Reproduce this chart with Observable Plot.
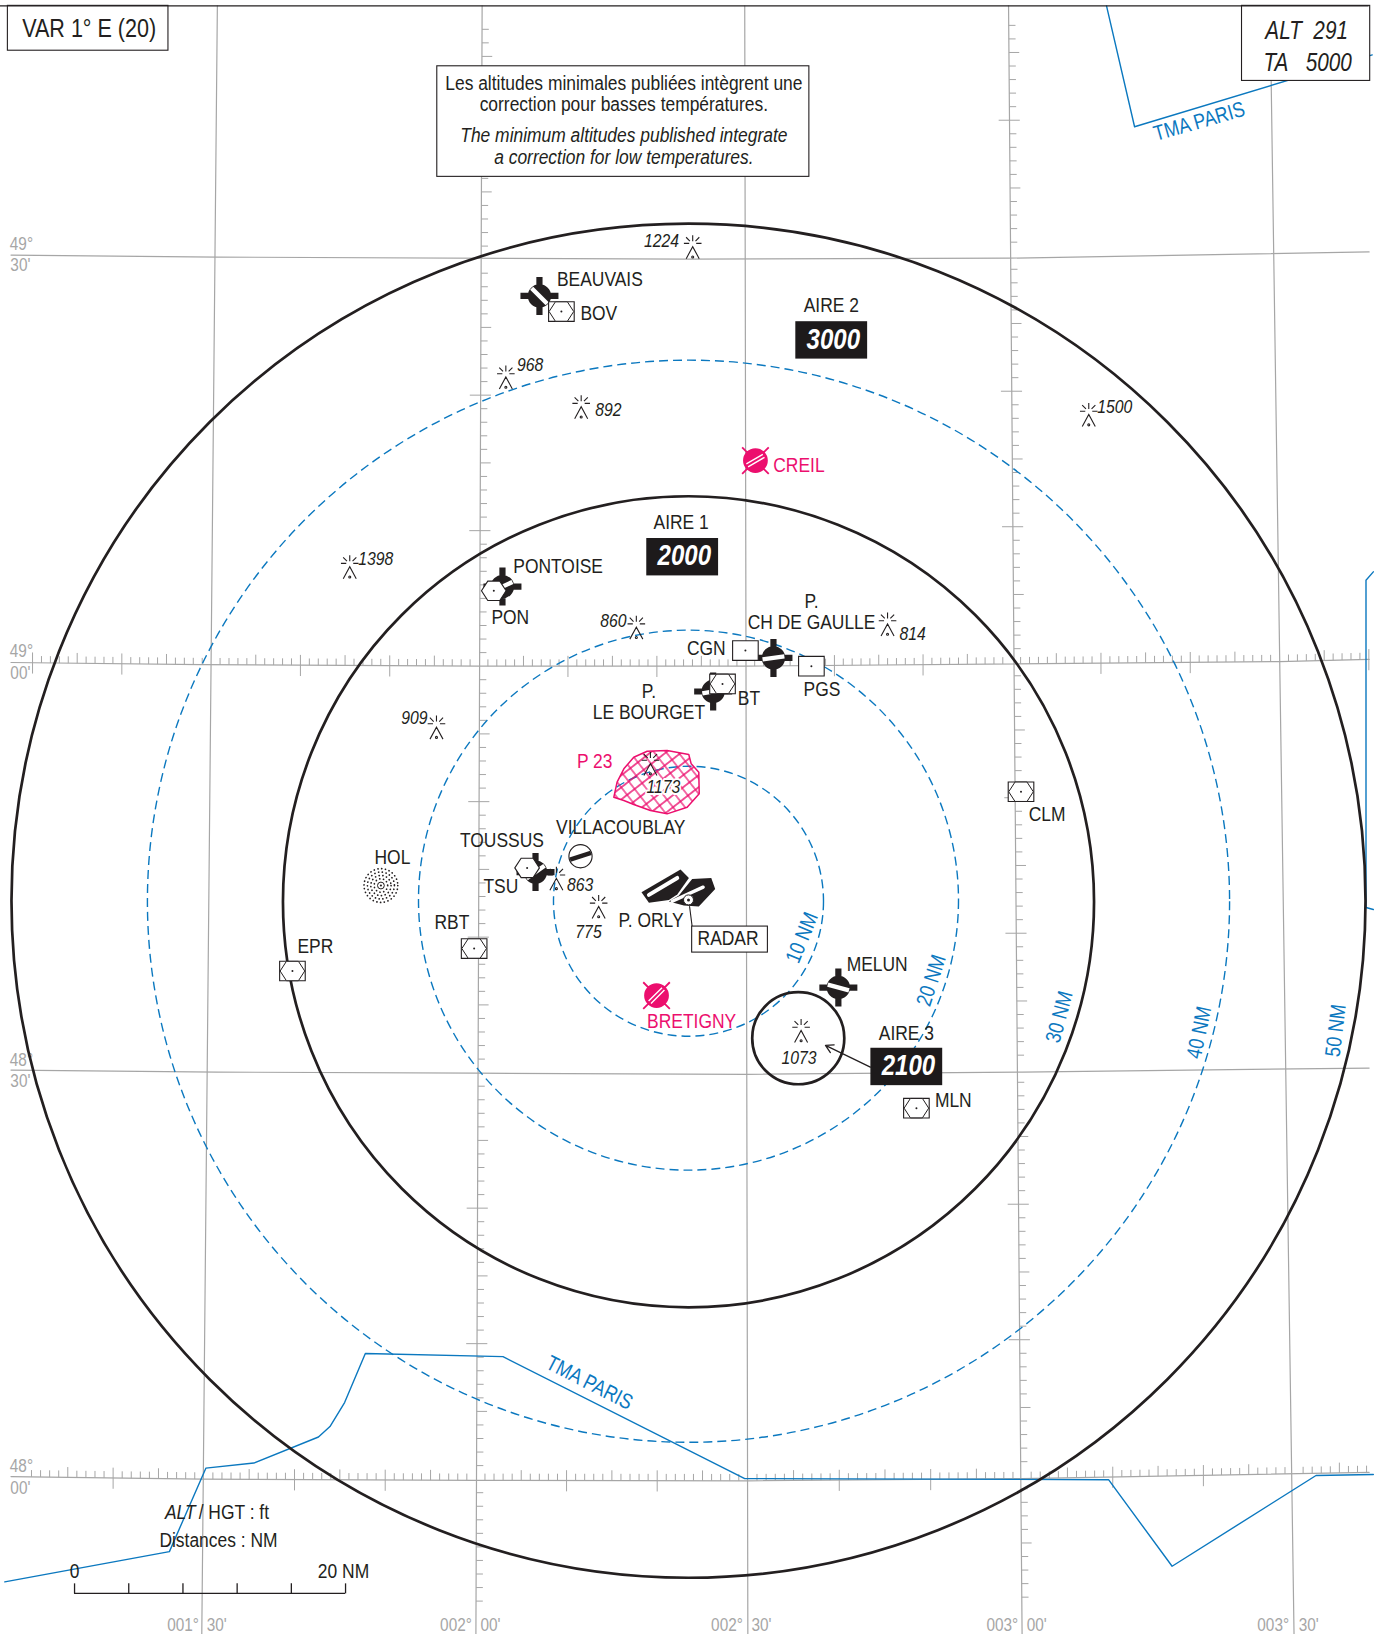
<!DOCTYPE html>
<html lang="fr">
<head>
<meta charset="utf-8">
<title>VAR 1° E (20)</title>
<script src="https://cdn.jsdelivr.net/npm/d3@7"></script>
<script src="https://cdn.jsdelivr.net/npm/@observablehq/plot@0.6"></script>
<style>
  html, body { margin: 0; padding: 0; background: #fff; overflow: hidden; }
  svg { display: block; }
</style>
</head>
<body>
<div id="chart"></div>
<script>
// All positions are nautical miles east / north of the chart centre.
const ringsSolid = [{r: 50.15, x: 0, y: 0}, {r: 30.04, x: 0, y: -0.08}];
const ringsDashed = [{r: 40.08, x: 0, y: -0.04}, {r: 20, x: 0, y: 0.04}, {r: 10, x: 0, y: -0.04}];
const aire3Ring = [{x: 8.1, y: -10.15, r: 3.41}];
const holRingsDotted = [1.25, 1.0, 0.75, 0.5];
const holPos = {x: -22.7, y: 1.12};

const meridians = [
  {name: "001°30", pts: [[-34.77, 66.04], [-35.92, -54.19]]},
  {name: "002°00", pts: [[-15.23, 66.04], [-15.69, -54.19]]},
  {name: "002°30", pts: [[4.15, 66.04], [4.38, -54.19]]},
  {name: "003°00", pts: [[23.62, 66.04], [24.62, -54.19]]},
  {name: "003°30", pts: [[42.92, 66.04], [44.69, -54.19]]}
];
const parallel4930 = [[-50, 47.65], [-34.77, 47.5], [0, 47.35], [23.62, 47.42], [50.23, 47.88]];
const parallel4900 = [[-50, 17.58], [-36, 17.42], [-15.46, 17.31], [4.23, 17.31], [43.62, 17.65], [50.23, 17.81]];
const parallel4830 = [[-50, -12.5], [-34.77, -12.65], [-15.69, -12.73], [4.23, -12.81], [24.62, -12.65], [50.23, -12.35]];
const parallel4800 = [[-50, -42.5], [-35.92, -42.69], [-15.69, -42.78], [4.38, -42.81], [24.62, -42.65], [50.23, -42.19]];
const crossings4900 = [-35.23, -15.46, 4.23, 23.85, 43.62];
const crossings4800 = [-35.77, -15.69, 4.38, 24.62, 44.69];

const tmaTop = [[30.85, 66.04], [32.92, 57.12], [50.46, 62.42]];
const tmaRight = [[50.54, 24.27], [50, 23.65], [50, -0.5], [50.54, -0.65]];
const tmaBottom = [[-50.46, -50.27], [-38.31, -48.04], [-35.62, -41.88], [-32.08, -41.5], [-27.31, -39.58], [-26.46, -38.81], [-25.38, -37.04], [-23.85, -33.42], [-13.69, -33.65], [4.15, -42.65], [31, -42.73], [35.69, -49.12], [46.31, -42.42], [50.54, -42.35]];

const p23Outline = [[-5.51, 7.64], [-5.27, 8.75], [-4.77, 9.73], [-4.04, 10.59], [-3.05, 11.03], [-1.58, 11.08], [0.02, 10.79], [0.2, 10.1], [0.76, 9.48], [0.79, 7.89], [-0.1, 6.9], [-1.58, 6.41], [-2.81, 6.66], [-4.04, 7.1], [-4.77, 7.39], [-5.51, 7.64]];
const orlyLeft = [[-3.47, 0.63], [-0.59, 2.3], [0.03, 1.68], [-0.83, 0.45], [-1.45, 0.06], [-2.92, -0.16], [-3.47, 0.63]];
const orlyRight = [[0.27, 1.61], [1.68, 1.68], [1.97, 0.87], [0.76, -0.43], [-0.34, -0.36], [-1.45, -0.06], [-0.71, 0.38], [0.27, 1.61]];
const orlyRunway1 = [[-2.92, 0.43], [-0.83, 1.68]];
const orlyRunway2 = [[-1.2, -0.04], [1.08, 1.0]];
const radarLeader = [[0.08, -0.43], [0.27, -1.91]];

const obstacles = [
  {x: 0.31, y: 48.27}, {x: -13.48, y: 38.65}, {x: -7.92, y: 36.46}, {x: 29.54, y: 35.88},
  {x: -25, y: 24.65}, {x: -3.85, y: 20.19}, {x: 14.69, y: 20.42}, {x: -18.6, y: 12.81},
  {x: -2.81, y: 10.12}, {x: -9.75, y: 1.65}, {x: -6.63, y: -0.42}, {x: 8.31, y: -9.58}
];
const obstacleLabels = [
  {t: "1224", x: -2, y: 48.65}, {t: "968", x: -11.69, y: 39.5}, {t: "892", x: -5.92, y: 36.12},
  {t: "1500", x: 31.45, y: 36.35}, {t: "1398", x: -23.08, y: 25.12}, {t: "860", x: -5.54, y: 20.58},
  {t: "814", x: 16.54, y: 19.65}, {t: "909", x: -20.23, y: 13.42}, {t: "863", x: -8, y: 1.12},
  {t: "775", x: -7.38, y: -2.35}, {t: "1073", x: 8.15, y: -11.65}
];
const obstacleLabelP23 = [{t: "1173", x: -1.85, y: 8.35}];

const navBoxHex = [
  {x: -9.38, y: 43.48}, {x: 2.51, y: 16.0}, {x: -15.82, y: -3.53},
  {x: -29.23, y: -5.19}, {x: 24.54, y: 8.04}, {x: 16.82, y: -15.31}
];
const navHex = [{x: -14.37, y: 22.87}, {x: -11.91, y: 2.42}];
const navBox = [{x: 4.2, y: 18.46}, {x: 9.07, y: 17.31}];

const aerodromes = [
  {x: -11, y: 44.63, rot: 45}, {x: -13.73, y: 23.18, rot: -25}, {x: 6.27, y: 17.92, rot: -8},
  {x: 1.82, y: 15.44, rot: -10}, {x: -11.29, y: 2.11, rot: -35}, {x: 11.06, y: -6.41, rot: 15}
];
const villacoublay = [{x: -7.97, y: 3.28, rot: -18}];
const closedFields = [{x: 4.94, y: 32.48, rot: -30}, {x: -2.36, y: -7.0, rot: -45}];
const radarHead = [{x: 0, y: 0.06}];

const placeLabels = [
  {t: "BEAUVAIS", x: -6.54, y: 45.81}, {t: "BOV", x: -6.62, y: 43.27}, {t: "AIRE 2", x: 10.54, y: 43.88},
  {t: "AIRE 1", x: -0.54, y: 27.88}, {t: "PONTOISE", x: -9.62, y: 24.58}, {t: "PON", x: -13.15, y: 20.88},
  {t: "P.", x: 9.08, y: 22.04}, {t: "CH DE GAULLE", x: 9.08, y: 20.5}, {t: "CGN", x: 1.31, y: 18.58},
  {t: "PGS", x: 9.85, y: 15.5}, {t: "BT", x: 4.46, y: 14.88}, {t: "P.", x: -2.92, y: 15.35},
  {t: "LE BOURGET", x: -2.92, y: 13.81}, {t: "VILLACOUBLAY", x: -5, y: 5.35}, {t: "TOUSSUS", x: -13.77, y: 4.35},
  {t: "TSU", x: -13.85, y: 0.96}, {t: "HOL", x: -21.85, y: 3.12}, {t: "RBT", x: -17.46, y: -1.65},
  {t: "EPR", x: -27.54, y: -3.42}, {t: "P. ORLY", x: -2.77, y: -1.5}, {t: "RADAR", x: 2.92, y: -2.88},
  {t: "MELUN", x: 13.92, y: -4.73}, {t: "AIRE 3", x: 16.08, y: -9.88}, {t: "MLN", x: 19.54, y: -14.81},
  {t: "CLM", x: 26.46, y: 6.27}
];
const legendLabels = [
  {t: "Distances : NM", x: -34.69, y: -47.27}, {t: "0", x: -45.31, y: -49.58}, {t: "20 NM", x: -25.46, y: -49.58}
];
const noteRegular = [
  {t: "Les altitudes minimales publiées intègrent une", x: -4.77, y: 60.27},
  {t: "correction pour basses températures.", x: -4.77, y: 58.73}
];
const noteItalic = [
  {t: "The minimum altitudes published integrate", x: -4.77, y: 56.42},
  {t: "a correction for low temperatures.", x: -4.77, y: 54.81}
];
const altLines = [
  {t: "ALT\u00a0\u00a0291", x: 45.62, y: 64.12},
  {t: "TA\u00a0\u00a0\u00a05000", x: 45.69, y: 61.73}
];
const aireBoxes = [
  {t: "3000", x: 10.69, y: 41.35}, {t: "2000", x: -0.31, y: 25.35}, {t: "2100", x: 16.23, y: -12.27}
];
const pinkLabels = [
  {t: "CREIL", x: 8.15, y: 32.04}, {t: "P 23", x: -6.92, y: 10.19}, {t: "BRETIGNY", x: 0.23, y: -8.96}
];
const ringLabels = [
  {t: "10 NM", x: 8.38, y: -2.73, rot: -68}, {t: "20 NM", x: 17.92, y: -5.88, rot: -72},
  {t: "30 NM", x: 27.38, y: -8.58, rot: -75}, {t: "40 NM", x: 37.69, y: -9.73, rot: -78},
  {t: "50 NM", x: 47.77, y: -9.58, rot: -83}, {t: "TMA PARIS", x: 37.69, y: 57.5, rot: -16},
  {t: "TMA PARIS", x: -7.31, y: -35.58, rot: 27}
];
const gratLabels = [
  {t: "49°", x: -49.23, y: 48.42}, {t: "30'", x: -49.31, y: 46.81},
  {t: "49°", x: -49.23, y: 18.35}, {t: "00'", x: -49.31, y: 16.73},
  {t: "48°", x: -49.23, y: -11.81}, {t: "30'", x: -49.31, y: -13.35},
  {t: "48°", x: -49.23, y: -41.81}, {t: "00'", x: -49.31, y: -43.42},
  {t: "001°", x: -37.3, y: -53.53}, {t: "30'", x: -34.82, y: -53.53},
  {t: "002°", x: -17.16, y: -53.53}, {t: "00'", x: -14.61, y: -53.53},
  {t: "002°", x: 2.84, y: -53.53}, {t: "30'", x: 5.39, y: -53.53},
  {t: "003°", x: 23.16, y: -53.53}, {t: "00'", x: 25.7, y: -53.53},
  {t: "003°", x: 43.15, y: -53.53}, {t: "30'", x: 45.77, y: -53.53}
];
const scaleBarTicks = [0, 4, 8, 12, 16, 20];
const scaleBar = {x0: -45.31, y0: -51.12};
const frameBoxes = [
  {x1: -50.23, x2: -38.38, y1: 66.04, y2: 62.73},
  {x1: 40.85, x2: 50.31, y1: 66.04, y2: 60.5},
  {x1: -18.54, x2: 8.92, y1: 61.58, y2: 53.42}
];
const radarBox = [{x1: 0.27, x2: 5.86, y1: -1.91, y2: -3.83}];

// ---- view ----
const W = 1378, H = 1634, pxPerNm = 13.55, cx = 688, cy = 900.2;
const INK = "#231f20", BLUE = "#0b78bf", PINK = "#ec0f6e", GRAY = "#a6a6a6";
const SANS = "'Liberation Sans',Arimo,Helvetica,Arial,sans-serif";
const TEXT_CONDENSE = 0.83;

// ---- graticule tick marks ----
const interp = pts => d3.scaleLinear().domain(pts.map(p => p[0])).range(pts.map(p => p[1]));
function parallelTicks(line, crossings, from, to) {
  const yAt = interp(line);
  const xAt = d3.scaleLinear().domain(crossings.map((_, i) => i * 30)).range(crossings);
  return d3.range(from, to + 1).filter(m => ((m % 30) + 30) % 30 !== 0).map(m => {
    const x = xAt(m), y = yAt(x), five = m % 5 === 0, ten = m % 10 === 0;
    return {x1: x, x2: x, y1: ten ? y - 0.8 : y, y2: y + (five ? 0.76 : 0.5)};
  });
}
function meridianTicks(m, from, to, y0) {
  const [[xa, ya], [xb, yb]] = m.pts;
  const xAt = d3.scaleLinear().domain([ya, yb]).range([xa, xb]);
  return d3.range(from, to + 1).filter(k => ((k % 30) + 30) % 30 !== 0).map(k => {
    const y = y0 + k, x = xAt(y), five = k % 5 === 0, ten = k % 10 === 0;
    return {x1: ten ? x - 0.8 : x, x2: x + (five ? 0.76 : 0.5), y1: y, y2: y};
  });
}
const gratTicks = [
  ...parallelTicks(parallel4900, crossings4900, -20, 130),
  ...parallelTicks(parallel4800, crossings4800, -19, 128),
  ...meridianTicks(meridians[1], -69, 47, 17.31),
  ...meridianTicks(meridians[3], -69, 47, 17.6)
];

// ---- glyphs (drawn in pixels around their anchor) ----
const glyph = draw => ({draw});
const obstacleGlyph = glyph(c => {
  const seg = (a, b, d, e) => { c.moveTo(a, b); c.lineTo(d, e); };
  seg(0, -11.5, 0, -5.5);
  seg(-6.6, -9.4, -2.8, -5.6); seg(6.6, -9.4, 2.8, -5.6);
  seg(-8.8, -3.3, -3.5, -3.3); seg(8.8, -3.3, 3.5, -3.3);
  c.moveTo(-6.5, 12); c.lineTo(0, 0); c.lineTo(6.5, 12);
  c.moveTo(1, 10.3); c.arc(0, 10.3, 1, 0, 2 * Math.PI);
});
const hexPath = c => {
  c.moveTo(-12.3, 0); c.lineTo(-6, -9.7); c.lineTo(6, -9.7);
  c.lineTo(12.3, 0); c.lineTo(6, 9.7); c.lineTo(-6, 9.7); c.closePath();
};
const hexGlyph = glyph(hexPath);
const boxGlyph = glyph(c => c.rect(-12.8, -9.8, 25.6, 19.6));
const aeroGlyph = glyph(c => {
  c.moveTo(11.7, 0); c.arc(0, 0, 11.7, 0, 2 * Math.PI);
  c.rect(-3.1, -19, 6.2, 38);
  c.rect(-19, -3.1, 38, 6.2);
});
const stripGlyph = glyph(c => c.rect(-11, -2.2, 22, 4.4));
const discGlyph = glyph(c => { c.moveTo(11.6, 0); c.arc(0, 0, 11.6, 0, 2 * Math.PI); });
const closedGlyph = glyph(c => {
  c.moveTo(11.5, 0); c.arc(0, 0, 11.5, 0, 2 * Math.PI);
  c.moveTo(-13.3, -13.3); c.lineTo(13.3, 13.3);
  c.moveTo(13.3, -13.3); c.lineTo(-13.3, 13.3);
});
const closedStrips = glyph(c => { c.rect(-9.5, -2.4, 19, 1.4); c.rect(-9.5, 1, 19, 1.4); });

// ---- mark helpers ----
const txt = (data, o) => Plot.text(data, {x: "x", y: "y", text: "t", dy: -1, fontFamily: SANS, fill: INK, ...o});
const path = (pts, o) => Plot.line(pts, {x: d => d[0], y: d => d[1], curve: "linear", ...o});
const sym = (data, symbol, o) => Plot.dot(data, {x: "x", y: "y", r: 1, symbol, ...o});
const poly = (ring, o) => Plot.geo([{type: "Polygon", coordinates: [ring]}], o);
const rect = (data, o) => Plot.rect(data, {x1: "x1", x2: "x2", y1: "y1", y2: "y2", ...o});

const hatchDefs = () => d3.create("svg:defs").html(
  `<pattern id="p23hatch" patternUnits="userSpaceOnUse" width="9.5" height="9.5" patternTransform="rotate(-38)">
     <path d="M0 4.75H9.5M4.75 0V9.5" stroke="${PINK}" stroke-width="1.2" fill="none"/>
   </pattern>`).node();

const chart = Plot.plot({
  width: W, height: H, margin: 0,
  style: {background: "#fff", overflow: "hidden"},
  x: {domain: [-cx / pxPerNm, (W - cx) / pxPerNm], range: [0, W], axis: null},
  y: {domain: [cy / pxPerNm, -(H - cy) / pxPerNm], range: [0, H], axis: null},
  r: {type: "linear", domain: [0, 50], range: [0, 50 * 13.5]},
  marks: [
    hatchDefs,
    // graticule
    ...meridians.map(m => path(m.pts, {stroke: GRAY, strokeWidth: 1.2})),
    ...[parallel4930, parallel4900, parallel4830, parallel4800].map(p => path(p, {stroke: GRAY, strokeWidth: 1.2})),
    Plot.link(gratTicks, {x1: "x1", y1: "y1", x2: "x2", y2: "y2", stroke: GRAY, strokeWidth: 1}),
    txt(gratLabels, {fill: GRAY, fontSize: 18.5}),
    // TMA limits
    path(tmaTop, {stroke: BLUE, strokeWidth: 1.4}),
    path(tmaRight, {stroke: BLUE, strokeWidth: 1.4}),
    path(tmaBottom, {stroke: BLUE, strokeWidth: 1.4}),
    // distance rings
    Plot.dot(ringsDashed, {x: "x", y: "y", r: "r", stroke: BLUE, strokeWidth: 1.4, strokeDasharray: "9,5", fill: "none"}),
    Plot.dot(ringsSolid, {x: "x", y: "y", r: "r", stroke: INK, strokeWidth: 2.7, fill: "none"}),
    Plot.dot(aire3Ring, {x: "x", y: "y", r: "r", stroke: INK, strokeWidth: 2.7, fill: "none"}),
    // boxes and frame
    rect(frameBoxes, {fill: "#fff", stroke: INK, strokeWidth: 1.1}),
    Plot.ruleY([66.04], {x1: -50.8, x2: 50.23, stroke: INK, strokeWidth: 1.4}),
    // P 23
    poly(p23Outline, {fill: "url(#p23hatch)", stroke: PINK, strokeWidth: 1.5}),
    // obstacles
    sym(obstacles, obstacleGlyph, {fill: "none", stroke: INK, strokeWidth: 1.1}),
    txt(obstacleLabels, {fontStyle: "italic", fontSize: 19}),
    txt(obstacleLabelP23, {fontStyle: "italic", fontSize: 19, stroke: "#fff", strokeWidth: 4}),
    // aerodromes
    sym(aerodromes, aeroGlyph, {fill: INK}),
    sym(aerodromes, stripGlyph, {fill: "#fff", rotate: d => d.rot}),
    sym(villacoublay, discGlyph, {fill: "#fff", stroke: INK, strokeWidth: 1.1}),
    sym(villacoublay, stripGlyph, {fill: INK, rotate: d => d.rot}),
    // Orly
    poly(orlyLeft, {fill: INK}),
    poly(orlyRight, {fill: INK}),
    path(orlyRunway1, {stroke: "#fff", strokeWidth: 4}),
    path(orlyRunway2, {stroke: "#fff", strokeWidth: 3.4}),
    path(radarLeader, {stroke: INK, strokeWidth: 1.1}),
    Plot.dot(radarHead, {x: "x", y: "y", r: () => 0.37, fill: "#fff", stroke: INK, strokeWidth: 1}),
    Plot.dot(radarHead, {x: "x", y: "y", r: 1.5, fill: INK}),
    rect(radarBox, {fill: "#fff", stroke: INK, strokeWidth: 1.1}),
    // closed fields
    sym(closedFields, closedGlyph, {fill: PINK, stroke: PINK, strokeWidth: 1.8}),
    sym(closedFields, closedStrips, {fill: "#fff", rotate: d => d.rot}),
    // navaids
    sym(navBoxHex, boxGlyph, {fill: "#fff", stroke: INK, strokeWidth: 1.1}),
    sym(navBoxHex, hexGlyph, {fill: "#fff", stroke: INK, strokeWidth: 1}),
    sym(navHex, hexGlyph, {fill: "#fff", stroke: INK, strokeWidth: 1.1}),
    sym(navBox, boxGlyph, {fill: "#fff", stroke: INK, strokeWidth: 1.1}),
    Plot.dot([...navBoxHex, ...navHex, ...navBox], {x: "x", y: "y", r: 1, fill: INK}),
    // HOL beacon
    Plot.dot(holRingsDotted, {x: () => holPos.x, y: () => holPos.y, r: d => d, stroke: INK, strokeWidth: 1.7, strokeLinecap: "round", strokeDasharray: "0.1,3.7", fill: "none"}),
    Plot.dot([holPos], {x: "x", y: "y", r: 3.4, stroke: INK, strokeWidth: 1, fill: "none"}),
    Plot.dot([holPos], {x: "x", y: "y", r: 1.1, fill: INK}),
    // minimum altitude boxes
    Plot.rect(aireBoxes, {x1: d => d.x - 2.77, x2: d => d.x + 2.53, y1: d => d.y - 1.38, y2: d => d.y + 1.38, fill: "#1d1a1b"}),
    txt(aireBoxes, {fill: "#fff", fontWeight: "bold", fontStyle: "italic", fontSize: 29}),
    Plot.arrow([{x1: 13.42, y1: -12.28, x2: 10.11, y2: -10.68}], {x1: "x1", y1: "y1", x2: "x2", y2: "y2", stroke: INK, strokeWidth: 1.3, headLength: 10}),
    // text
    txt(placeLabels, {fontSize: 21}),
    txt(legendLabels, {fontSize: 21}),
    txt([{t: "ALT", x: -36.38, y: -45.19}], {fontSize: 21, fontStyle: "italic", textAnchor: "end"}),
    txt([{t: "/ HGT : ft", x: -36.15, y: -45.19}], {fontSize: 21, textAnchor: "start"}),
    txt(noteRegular, {fontSize: 21}),
    txt(noteItalic, {fontSize: 21, fontStyle: "italic"}),
    txt([{t: "VAR 1° E (20)", x: -44.23, y: 64.27}], {fontSize: 26}),
    txt(altLines, {fontSize: 25, fontStyle: "italic"}),
    txt(pinkLabels, {fill: PINK, fontSize: 21}),
    Plot.text(ringLabels, {x: "x", y: "y", text: "t", rotate: "rot", fontFamily: SANS, fill: BLUE, fontSize: 21.5}),
    // scale bar
    Plot.ruleY([scaleBar.y0], {x1: scaleBar.x0, x2: scaleBar.x0 + 20, stroke: INK, strokeWidth: 1.3}),
    Plot.link(scaleBarTicks, {x1: d => scaleBar.x0 + d, x2: d => scaleBar.x0 + d, y1: scaleBar.y0, y2: scaleBar.y0 + 0.74, stroke: INK, strokeWidth: 1.3})
  ]
});
// The chart's lettering is a condensed grotesque: narrow the real text about its own anchor.
chart.querySelectorAll("text").forEach(t => {
  t.setAttribute("transform", `${t.getAttribute("transform") || ""} scale(${TEXT_CONDENSE},1)`);
});
document.getElementById("chart").append(chart);
</script>
</body>
</html>
